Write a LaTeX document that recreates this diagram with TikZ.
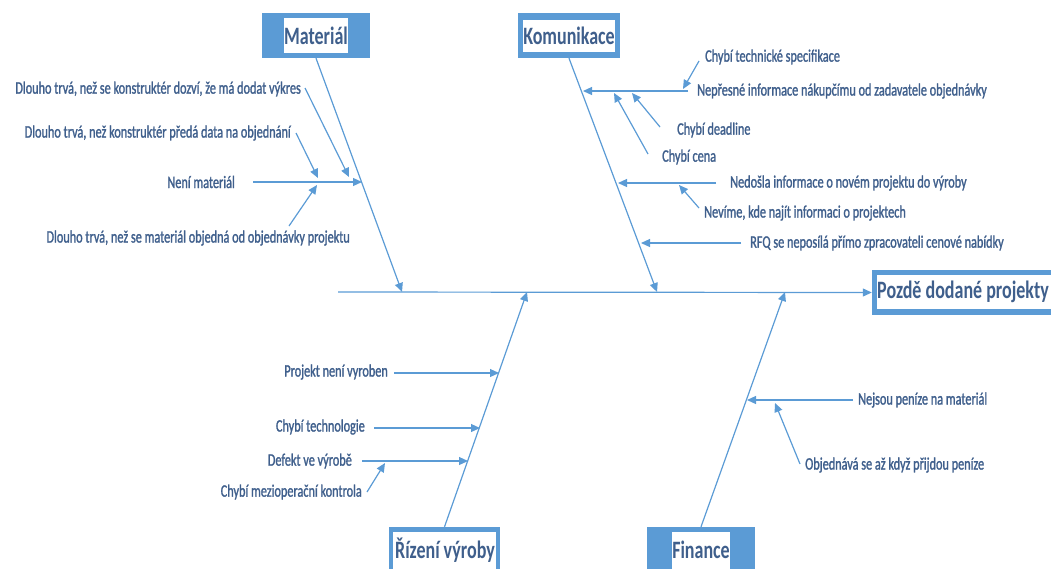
\documentclass[tikz,border=0pt]{standalone}
\usepackage{fontspec}
\setmainfont{Carlito}[FakeStretch=0.72]
\newfontfamily\causefont{Carlito}[FakeStretch=0.70,FakeBold=1.3]
\usetikzlibrary{arrows.meta}
\definecolor{bone}{HTML}{5B9BD5}
\definecolor{txt}{HTML}{3F5F8C}
\begin{document}
\begin{tikzpicture}[x=1pt,y=-1pt,
  cause/.style={text=txt,font=\causefont\fontsize{17.5}{17.5}\selectfont,inner sep=0pt},
  head/.style={text=txt,font=\fontsize{25}{25}\selectfont\bfseries,inner sep=0pt,fill=white},
  label/.style={text=txt,font=\fontsize{25}{25}\selectfont\bfseries,inner sep=0pt},
  frame/.style={fill=bone,inner sep=0pt},
  link/.style={draw=bone,line width=1.2pt,-{Triangle[length=9pt,width=8pt]}}]
\useasboundingbox (0,0) rectangle (1051,568);

% category boxes
\node[frame,minimum width=108pt,minimum height=45pt] (matbox) at (316,35.5) {};
\node[head,minimum width=64pt,minimum height=35pt] (mat) at (316,35.5) {Materiál};
\node[frame,minimum width=102pt,minimum height=45pt] (kombox) at (569,35.5) {};
\node[head,minimum width=88pt,minimum height=32pt] (kom) at (569,36) {Komunikace};
\node[frame,minimum width=111pt,minimum height=53pt] (rizbox) at (444.5,553.5) {};
\node[fill=white,inner sep=0pt,minimum width=103pt,minimum height=48pt] (riz) at (444.5,556) {};
\node[label] (rizl) at (445,550) {Řízení výroby};
\node[frame,minimum width=108pt,minimum height=53pt] (finbox) at (701,553.5) {};
\node[fill=white,inner sep=0pt,minimum width=58pt,minimum height=48pt] (fin) at (701,556) {};
\node[label] (finl) at (701,550) {Finance};

% effect box
\node[frame,minimum width=188pt,minimum height=45pt] (effbox) at (966,292.5) {};
\node[fill=white,minimum width=190pt,minimum height=34pt,inner sep=0pt] (effin) at (972,292) {};
\node[label,anchor=west] (eff) at (877,292) {Pozdě dodané projekty};

% spine
\coordinate (tail) at (338,292);
\draw[link] (tail) -- (effbox.west);

% main bones
\coordinate (mEnd) at (402,292);
\coordinate (kEnd) at (657,292);
\coordinate (rEnd) at (527,292);
\coordinate (fEnd) at (785,292);
\draw[link] (matbox.south) -- (mEnd);
\draw[link] (kombox.south) -- (kEnd);
\draw[link] (rizbox.north) -- (rEnd);
\draw[link] (finbox.north) -- (fEnd);

% Materiál causes
\node[cause,anchor=east] (m1) at (301,89) {Dlouho trvá, než se konstruktér dozví, že má dodat výkres};
\node[cause,anchor=east] (m2) at (291,133) {Dlouho trvá, než konstruktér předá data na objednání};
\node[cause,anchor=east] (m3) at (235,182) {Není materiál};
\node[cause,anchor=east] (m4) at (350,238) {Dlouho trvá, než se materiál objedná od objednávky projektu};
\coordinate (m1s) at (305,88);  \coordinate (m1e) at (349,177);
\coordinate (m2s) at (296,133); \coordinate (m2e) at (318,178);
\coordinate (m3s) at (253,182); \coordinate (m3e) at (362,182);
\coordinate (m4s) at (289,226); \coordinate (m4e) at (317,185);
\draw[link] (m1s) -- (m1e);
\draw[link] (m2s) -- (m2e);
\draw[link] (m3s) -- (m3e);
\draw[link] (m4s) -- (m4e);

% Komunikace causes
\node[cause,anchor=west] (k1) at (705,57) {Chybí technické specifikace};
\node[cause,anchor=west] (k2) at (697,91) {Nepřesné informace nákupčímu od zadavatele objednávky};
\node[cause,anchor=west] (k3) at (677,130) {Chybí deadline};
\node[cause,anchor=west] (k4) at (662,157) {Chybí cena};
\node[cause,anchor=west] (k5) at (730,183) {Nedošla informace o novém projektu do výroby};
\node[cause,anchor=west] (k6) at (704,213) {Nevíme, kde najít informaci o projektech};
\node[cause,anchor=west] (k7) at (750,243) {RFQ se neposílá přímo zpracovateli cenové nabídky};
\coordinate (k2s) at (688,91);  \coordinate (k2e) at (583,91);
\coordinate (k1s) at (699,61);  \coordinate (k1e) at (683,89);
\coordinate (k3s) at (660,127); \coordinate (k3e) at (632,93);
\coordinate (k4s) at (648,154); \coordinate (k4e) at (614,93);
\coordinate (k5s) at (716,183); \coordinate (k5e) at (618,183);
\coordinate (k6s) at (699,208); \coordinate (k6e) at (679,185);
\coordinate (k7s) at (741,243); \coordinate (k7e) at (641,243);
\draw[link] (k2s) -- (k2e);
\draw[link] (k1s) -- (k1e);
\draw[link] (k3s) -- (k3e);
\draw[link] (k4s) -- (k4e);
\draw[link] (k5s) -- (k5e);
\draw[link] (k6s) -- (k6e);
\draw[link] (k7s) -- (k7e);

% Řízení výroby causes
\node[cause,anchor=east] (r1) at (388,372) {Projekt není vyroben};
\node[cause,anchor=east] (r2) at (365,427) {Chybí technologie};
\node[cause,anchor=east] (r3) at (352,461) {Defekt ve výrobě};
\node[cause,anchor=east] (r4) at (362,492) {Chybí mezioperační kontrola};
\coordinate (r1s) at (394,373); \coordinate (r1e) at (499,373);
\coordinate (r2s) at (374,428); \coordinate (r2e) at (480,428);
\coordinate (r3s) at (362,461); \coordinate (r3e) at (468,461);
\coordinate (r4s) at (367,492); \coordinate (r4e) at (385,463);
\draw[link] (r1s) -- (r1e);
\draw[link] (r2s) -- (r2e);
\draw[link] (r3s) -- (r3e);
\draw[link] (r4s) -- (r4e);

% Finance causes
\node[cause,anchor=west] (f1) at (858,400) {Nejsou peníze na materiál};
\node[cause,anchor=west] (f2) at (805,465) {Objednává se až když přijdou peníze};
\coordinate (f1s) at (853,400); \coordinate (f1e) at (747,400);
\coordinate (f2s) at (800,464); \coordinate (f2e) at (775,403);
\draw[link] (f1s) -- (f1e);
\draw[link] (f2s) -- (f2e);
\end{tikzpicture}
\end{document}
